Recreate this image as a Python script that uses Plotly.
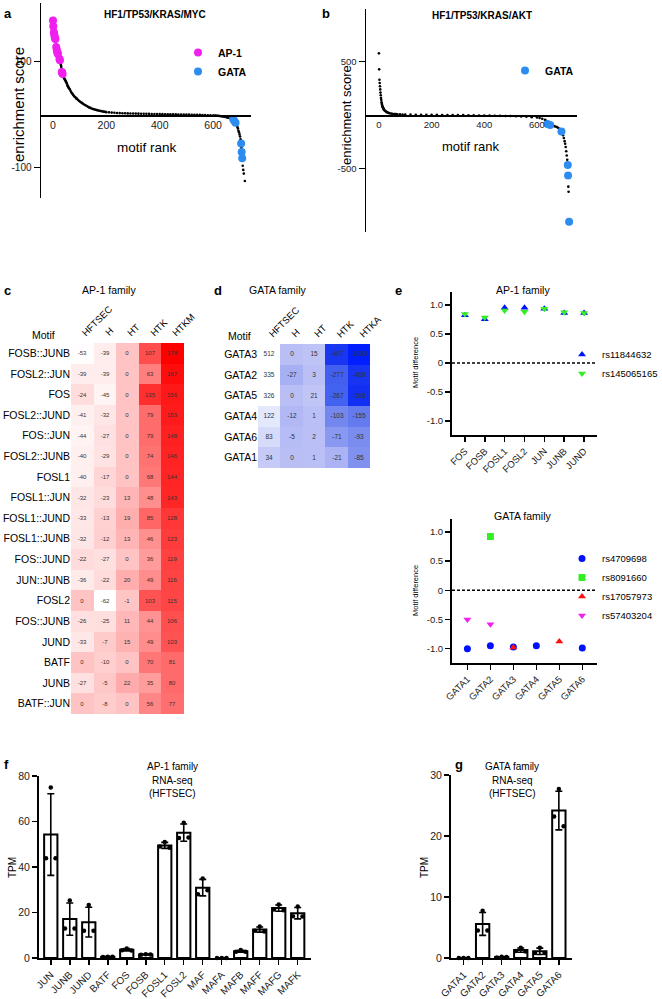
import plotly.graph_objects as go

W, H = 662, 999
FONT = "Liberation Sans, Arial, sans-serif"


def px(x):
    return x / W


def py(y):
    return 1 - y / H


# ---------------- panel a data (HF1/TP53/KRAS/MYC) ----------------
a_rank = [0, 1, 2, 3, 4, 5, 6, 7, 8, 9,
          10, 11, 12, 13, 14, 15, 16, 17, 18, 19,
          20, 21, 22, 23, 24, 25, 26, 27, 28, 29,
          30, 31, 32, 33, 34, 35, 36, 37, 38, 39,
          40, 42, 44, 46, 48, 50, 52, 54, 56, 58,
          60, 63, 66, 69, 72, 75, 78, 81, 84, 87,
          90, 94, 98, 102, 106, 110, 115, 120, 125, 130,
          135, 140, 145, 150, 155, 160, 165, 170, 175, 180,
          185, 190, 195, 200, 210, 220, 230, 240, 250, 260,
          270, 280, 290, 300, 310, 320, 330, 340, 350, 360,
          370, 380, 390, 400, 410, 420, 430, 440, 450, 460,
          470, 480, 490, 500, 510, 520, 530, 540, 550, 560,
          570, 580, 590, 600, 605, 610, 615, 620, 625, 630,
          635, 640, 645, 650, 653, 656, 659, 662, 665, 668,
          671, 673, 675, 677, 679, 681, 683, 685, 687, 689,
          691, 693, 695, 697, 699, 701, 703, 704, 705, 706,
          707, 708, 709, 711, 713, 715, 719]
a_score = [178, 167, 160, 156, 153, 150, 148, 146, 144, 143,
           138, 132, 128, 125, 123, 121, 119, 116, 115, 112,
           110, 109, 108, 107, 106, 104, 103, 100, 98, 96,
           93, 90, 86, 81, 80, 79, 77, 75, 74, 72,
           71, 69, 67, 65, 63, 61, 59, 56, 54, 52,
           50, 48, 45, 42, 40, 38, 36, 34, 33, 31,
           30, 28, 26, 24.5, 23, 22, 20, 18.5, 17, 15.5,
           14, 13, 12, 11, 10.2, 9.5, 8.8, 8.2, 7.6, 7,
           6.5, 6, 5.5, 5, 4.6, 4.2, 3.8, 3.5, 3.2, 3,
           2.9, 2.7, 2.6, 2.5, 2.3, 2.2, 2.1, 1.9, 1.8, 1.7,
           1.6, 1.5, 1.4, 1.3, 1.2, 1.1, 1.0, 1.0, 0.9, 0.8,
           0.7, 0.6, 0.5, 0.4, 0.3, 0.2, 0.1, 0, -0.1, -0.3,
           -0.5, -0.7, -0.9, -1.2, -1.4, -1.6, -1.8, -2.0, -2.3, -2.6,
           -3.0, -3.4, -3.9, -4.4, -4.8, -5.2, -5.6, -6.0, -6.5, -7,
           -7.5, -7.8, -8, -9, -11, -12, -14, -16, -18, -20,
           -23, -26, -30, -33, -37, -41, -46, -50, -54, -62,
           -66, -70, -82, -96, -104, -111, -125]
a_ap1_rank = [0, 1, 3, 4, 6, 7, 8, 9, 12, 14, 16, 17, 18, 24, 26, 33, 34, 36]
a_ap1_score = [178, 167, 156, 153, 148, 146, 144, 143, 128, 123, 119, 116, 115, 106, 103, 81, 80, 77]
a_gata_rank = [675, 679, 684, 705, 707, 709]
a_gata_score = [-8, -11, -15, -54, -70, -82]

# ---------------- panel b data (HF1/TP53/KRAS/AKT) ----------------
b_rank = [0, 1, 2, 3, 4, 5, 6, 7, 8, 9,
          10, 11, 12, 13, 14, 15, 16, 17, 18, 20,
          22, 24, 27, 30, 33, 36, 40, 45, 50, 55,
          60, 65, 70, 80, 90, 100, 120, 140, 160, 180,
          200, 220, 240, 260, 280, 300, 320, 340, 360, 380,
          400, 420, 440, 460, 480, 500, 520, 540, 560, 580,
          600, 610, 620, 630, 635, 640, 645, 650, 655, 660,
          665, 670, 675, 680, 685, 690, 693, 696, 699, 702,
          705, 707, 709, 711, 713, 715, 717, 718, 719, 720,
          722]
b_score = [578, 428, 330, 300, 270, 240, 210, 185, 160, 140,
           120, 105, 95, 85, 78, 72, 66, 60, 55, 48,
           42, 37, 32, 27, 23, 20, 17, 14, 12, 10,
           9, 8, 7, 6, 5, 4.5, 3.5, 3, 2.5, 2,
           1.5, 1, 0.5, 0, -0.5, -1, -1.5, -2, -3, -4,
           -5, -6, -7, -8, -9, -10, -12, -14, -17, -20,
           -24, -28, -35, -45, -55, -85, -90, -93, -96, -100,
           -104, -108, -113, -120, -130, -145, -155, -170, -190, -215,
           -245, -270, -300, -340, -380, -420, -468, -568, -672, -719,
           -1000]
b_gata_rank = [640, 650, 693, 717, 718, 722]
b_gata_score = [-85, -93, -155, -468, -568, -1000]

# ---------------- panel c data (AP-1 heatmap) ----------------
c_cols = ["HFTSEC", "H", "HT", "HTK", "HTKM"]
c_rows = ["FOSB::JUNB", "FOSL2::JUN", "FOS", "FOSL2::JUND", "FOS::JUN", "FOSL2::JUNB",
          "FOSL1", "FOSL1::JUN", "FOSL1::JUND", "FOSL1::JUNB", "FOS::JUND", "JUN::JUNB",
          "FOSL2", "FOS::JUNB", "JUND", "BATF", "JUNB", "BATF::JUN"]
c_HFTSEC = [-53, -39, -24, -41, -44, -40, -40, -32, -33, -32, -22, -36, 0, -26, -33, 0, -27, 0]
c_H = [-39, -39, -45, -32, -27, -29, -17, -23, -13, -12, -27, -22, -62, -25, -7, -10, -5, -8]
c_HT = [0, 0, 0, 0, 0, 0, 0, 13, 19, 13, 0, 20, -1, 11, 15, 0, 22, 0]
c_HTK = [107, 63, 135, 79, 79, 74, 68, 48, 85, 46, 36, 49, 103, 44, 49, 70, 35, 56]
c_HTKM = [178, 167, 156, 153, 148, 146, 144, 143, 128, 123, 119, 116, 115, 106, 103, 81, 80, 77]

# ---------------- panel d data (GATA heatmap) ----------------
d_cols = ["HFTSEC", "H", "HT", "HTK", "HTKA"]
d_rows = ["GATA3", "GATA2", "GATA5", "GATA4", "GATA6", "GATA1"]
d_HFTSEC = [512, 335, 326, 122, 83, 34]
d_H = [0, -27, 0, -12, -5, 0]
d_HT = [15, 3, 21, 1, 2, 1]
d_HTK = [-407, -277, -267, -103, -71, -21]
d_HTKA = [-1000, -468, -568, -155, -93, -85]

# ---------------- panel e data (motif difference) ----------------
e1_tf = ["FOS", "FOSB", "FOSL1", "FOSL2", "JUN", "JUNB", "JUND"]
e1_rs11844632 = [0.82, 0.75, 0.95, 0.95, 0.93, 0.86, 0.86]
e1_rs145065165 = [0.84, 0.78, 0.90, 0.88, 0.93, 0.87, 0.86]

e2_tf = ["GATA1", "GATA2", "GATA3", "GATA4", "GATA5", "GATA6"]
e2_rs4709698 = [-1.0, -0.95, -0.97, -0.95, None, -0.99]
e2_rs8091660 = [None, 0.92, None, None, None, None]
e2_rs17057973 = [None, None, -0.98, None, -0.875, None]
e2_rs57403204 = [-0.5, -0.58, None, None, None, None]

e_ticks = [-1.0, -0.5, 0, 0.5, 1.0]
e_ticktext = ["-1.0", "-0.5", "0", "0.5", "1.0"]

# ---------------- panel f data (AP-1 RNA-seq TPM) ----------------
f_genes = ["JUN", "JUNB", "JUND", "BATF", "FOS", "FOSB", "FOSL1", "FOSL2",
           "MAF", "MAFA", "MAFB", "MAFF", "MAFG", "MAFK"]
f_rep1 = [75, 25.3, 23.3, 0.6, 4.2, 1.6, 51, 59.5, 35, 0, 3.5, 13.8, 23.5, 22.6]
f_rep2 = [43.9, 13.0, 12.0, 0.4, 3.4, 1.4, 49, 52.8, 28, 0, 2.8, 12.0, 21.3, 18.3]
f_rep3 = [43.9, 13.0, 12.0, 0.5, 3.3, 1.5, 48.5, 53, 29.8, 0, 2.7, 11.7, 21.0, 18.2]
f_yticks = [0, 20, 40, 60, 80]

# ---------------- panel g data (GATA RNA-seq TPM) ----------------
g_genes = ["GATA1", "GATA2", "GATA3", "GATA4", "GATA5", "GATA6"]
g_rep1 = [0, 7.75, 0.2, 1.7, 1.7, 27.7]
g_rep2 = [0, 4.5, 0.1, 1.15, 0.8, 23.2]
g_rep3 = [0, 4.5, 0.15, 1.05, 0.8, 21.6]
g_yticks = [0, 10, 20, 30]


def mean_sd(r1, r2, r3):
    means, sds = [], []
    for a, b, c in zip(r1, r2, r3):
        m = (a + b + c) / 3
        v = ((a - m) ** 2 + (b - m) ** 2 + (c - m) ** 2) / 2
        means.append(m)
        sds.append(v ** 0.5)
    return means, sds


fig = go.Figure()

# ---- a
fig.add_trace(go.Scatter(x=a_rank, y=a_score, mode="markers", xaxis="x", yaxis="y",
                         marker=dict(size=2.6, color="black"), showlegend=False,
                         cliponaxis=False, hoverinfo="skip"))
fig.add_trace(go.Scatter(x=a_ap1_rank, y=a_ap1_score, mode="markers", xaxis="x", yaxis="y",
                         marker=dict(size=8, color="#F020EE"), name="<b>AP-1</b>",
                         legend="legend", cliponaxis=False))
fig.add_trace(go.Scatter(x=a_gata_rank, y=a_gata_score, mode="markers", xaxis="x", yaxis="y",
                         marker=dict(size=8, color="#2D8CF0"), name="<b>GATA</b>",
                         legend="legend", cliponaxis=False))
# ---- b
fig.add_trace(go.Scatter(x=b_rank, y=b_score, mode="markers", xaxis="x2", yaxis="y2",
                         marker=dict(size=2.6, color="black"), showlegend=False,
                         cliponaxis=False, hoverinfo="skip"))
fig.add_trace(go.Scatter(x=b_gata_rank, y=b_gata_score, mode="markers", xaxis="x2", yaxis="y2",
                         marker=dict(size=8, color="#2D8CF0"), name="<b>GATA</b>",
                         legend="legend2", cliponaxis=False))

# ---- c heatmap
c_z = [list(r) for r in zip(c_HFTSEC, c_H, c_HT, c_HTK, c_HTKM)]
c_txt = [[str(v) for v in r] for r in c_z]
fig.add_trace(go.Heatmap(z=c_z, x=c_cols, y=c_rows, text=c_txt, texttemplate="%{text}",
                         textfont=dict(size=6, color="#333", family=FONT),
                         colorscale=[[0, "#FFFFFF"], [1, "#FF0000"]], zmin=-55, zmax=178,
                         showscale=False, xaxis="x3", yaxis="y3", hoverinfo="skip"))
# ---- d heatmap
d_z = [list(r) for r in zip(d_HFTSEC, d_H, d_HT, d_HTK, d_HTKA)]
d_txt = [[str(v) for v in r] for r in d_z]
blue_scale = [[0.0, "rgb(0,30,255)"], [0.392, "rgb(25,55,240)"], [0.477, "rgb(65,95,240)"],
              [0.593, "rgb(115,135,238)"], [0.661, "rgb(185,190,245)"],
              [0.742, "rgb(228,232,252)"], [0.86, "rgb(255,255,255)"], [1.0, "rgb(255,255,255)"]]
fig.add_trace(go.Heatmap(z=d_z, x=d_cols, y=d_rows, text=d_txt, texttemplate="%{text}",
                         textfont=dict(size=6.5, color="#333", family=FONT),
                         colorscale=blue_scale, zmin=-1000, zmax=512,
                         showscale=False, xaxis="x4", yaxis="y4", hoverinfo="skip"))

# ---- e top
fig.add_trace(go.Scatter(x=e1_tf, y=e1_rs11844632, mode="markers", xaxis="x5", yaxis="y5",
                         marker=dict(symbol="triangle-up", size=7, color="#0010FF"),
                         name="rs11844632", legend="legend3", cliponaxis=False))
fig.add_trace(go.Scatter(x=e1_tf, y=e1_rs145065165, mode="markers", xaxis="x5", yaxis="y5",
                         marker=dict(symbol="triangle-down", size=7, color="#33EE22"),
                         name="rs145065165", legend="legend3", cliponaxis=False))
# ---- e bottom
fig.add_trace(go.Scatter(x=e2_tf, y=e2_rs4709698, mode="markers", xaxis="x6", yaxis="y6",
                         marker=dict(symbol="circle", size=7, color="#0010FF"),
                         name="rs4709698", legend="legend4", cliponaxis=False))
fig.add_trace(go.Scatter(x=e2_tf, y=e2_rs8091660, mode="markers", xaxis="x6", yaxis="y6",
                         marker=dict(symbol="square", size=7, color="#33EE22"),
                         name="rs8091660", legend="legend4", cliponaxis=False))
fig.add_trace(go.Scatter(x=e2_tf, y=e2_rs17057973, mode="markers", xaxis="x6", yaxis="y6",
                         marker=dict(symbol="triangle-up", size=7, color="#FF1010"),
                         name="rs17057973", legend="legend4", cliponaxis=False))
fig.add_trace(go.Scatter(x=e2_tf, y=e2_rs57403204, mode="markers", xaxis="x6", yaxis="y6",
                         marker=dict(symbol="triangle-down", size=7, color="#F020EE"),
                         name="rs57403204", legend="legend4", cliponaxis=False))

# ---- f bars
DOT_OFF = [0.0, -0.25, 0.25]
f_mean, f_sd = mean_sd(f_rep1, f_rep2, f_rep3)
f_idx = list(range(len(f_genes)))
fig.add_trace(go.Bar(x=f_idx, y=f_mean, width=0.7, xaxis="x7", yaxis="y7",
                     marker=dict(color="white", line=dict(color="black", width=2)),
                     error_y=dict(type="data", array=f_sd, color="black", thickness=1.6, width=3.5),
                     showlegend=False, cliponaxis=False))
for reps, off in zip([f_rep1, f_rep2, f_rep3], DOT_OFF):
    fig.add_trace(go.Scatter(x=[i + off for i in f_idx], y=reps, mode="markers",
                             xaxis="x7", yaxis="y7", marker=dict(size=4.5, color="black"),
                             showlegend=False, cliponaxis=False))
# ---- g bars
g_mean, g_sd = mean_sd(g_rep1, g_rep2, g_rep3)
g_idx = list(range(len(g_genes)))
fig.add_trace(go.Bar(x=g_idx, y=g_mean, width=0.7, xaxis="x8", yaxis="y8",
                     marker=dict(color="white", line=dict(color="black", width=2)),
                     error_y=dict(type="data", array=g_sd, color="black", thickness=1.6, width=3.5),
                     showlegend=False, cliponaxis=False))
for reps, off in zip([g_rep1, g_rep2, g_rep3], DOT_OFF):
    fig.add_trace(go.Scatter(x=[i + off for i in g_idx], y=reps, mode="markers",
                             xaxis="x8", yaxis="y8", marker=dict(size=4.5, color="black"),
                             showlegend=False, cliponaxis=False))

TICKC = "#222"


def tf(size):
    return dict(family=FONT, size=size, color=TICKC)


base = dict(showgrid=False, zeroline=False, linecolor="black", automargin=False)

layout = dict(
    template="none",
    width=W, height=H, margin=dict(l=0, r=0, t=0, b=0, autoexpand=False),
    paper_bgcolor="white", plot_bgcolor="rgba(0,0,0,0)",
    font=dict(family=FONT, color="black"),
    hovermode=False,
    # a
    xaxis=dict(**base, domain=[px(41), px(251)], range=[-45, 742], anchor="free", position=py(115),
               showline=True, linewidth=1.5, ticks="", tickvals=[0, 200, 400, 600],
               tickfont=tf(10.5)),
    yaxis=dict(**base, domain=[py(198), py(3)], range=[-157, 211], anchor="x", showline=True,
               linewidth=1.5, ticks="outside", ticklen=6, tickwidth=1.3, tickcolor="black",
               tickvals=[-100, 100], ticktext=["-100", "100"], tickfont=tf(10)),
    # b
    xaxis2=dict(**base, domain=[px(366), px(577)], range=[-49, 752], anchor="free", position=py(115),
                showline=True, linewidth=1.5, ticks="", tickvals=[0, 200, 400, 600],
                tickfont=tf(9.5)),
    yaxis2=dict(**base, domain=[py(232), py(9)], range=[-1097, 994], anchor="x2", showline=True,
                linewidth=1.5, ticks="outside", ticklen=6, tickwidth=1.3, tickcolor="black",
                tickvals=[-500, 500], ticktext=["-500", "500"], tickfont=tf(9.5)),
    # c
    xaxis3=dict(**base, domain=[px(71), px(200)], side="top", showticklabels=False, ticks="",
                showline=False, anchor="y3"),
    yaxis3=dict(**base, domain=[py(714), py(343)], autorange="reversed", ticks="",
                showline=False, tickfont=dict(family=FONT, size=10.5, color="black"), anchor="x3"),
    # d
    xaxis4=dict(**base, domain=[px(258), px(386)], side="top", showticklabels=False, ticks="",
                showline=False, anchor="y4"),
    yaxis4=dict(**base, domain=[py(468), py(344)], autorange="reversed", ticks="",
                showline=False, tickfont=dict(family=FONT, size=10.5, color="black"), anchor="x4"),
    # e top
    xaxis5=dict(**base, domain=[px(452), px(597)], range=[-0.65, 6.65], anchor="y5",
                showline=True, linewidth=2, ticks="outside", ticklen=5, tickwidth=1.5,
                tickcolor="black", tickangle=-45, tickfont=tf(9.5), type="category",
                categoryorder="array", categoryarray=e1_tf),
    yaxis5=dict(**base, domain=[py(435), py(292)], range=[-1.24, 1.22], anchor="x5",
                showline=True, linewidth=2, ticks="outside", ticklen=5, tickwidth=1.5,
                tickcolor="black", tickvals=e_ticks, ticktext=e_ticktext, tickfont=tf(9.5)),
    # e bottom
    xaxis6=dict(**base, domain=[px(452), px(597)], range=[-0.67, 5.64], anchor="y6",
                showline=True, linewidth=2, ticks="outside", ticklen=5, tickwidth=1.5,
                tickcolor="black", tickangle=-45, tickfont=tf(9.5), type="category",
                categoryorder="array", categoryarray=e2_tf),
    yaxis6=dict(**base, domain=[py(663), py(519)], range=[-1.245, 1.22], anchor="x6",
                showline=True, linewidth=2, ticks="outside", ticklen=5, tickwidth=1.5,
                tickcolor="black", tickvals=e_ticks, ticktext=e_ticktext, tickfont=tf(9.5)),
    # f
    xaxis7=dict(**base, domain=[px(39), px(311)], range=[-0.62, 13.7], anchor="y7",
                showline=True, linewidth=2, ticks="outside", ticklen=5, tickwidth=1.5,
                tickcolor="black", tickangle=-45, tickvals=f_idx, ticktext=f_genes,
                tickfont=tf(10)),
    yaxis7=dict(**base, domain=[py(958), py(776)], range=[0, 80], anchor="x7",
                showline=True, linewidth=2, ticks="outside", ticklen=5, tickwidth=1.5,
                tickcolor="black", tickvals=f_yticks, tickfont=tf(10.5)),
    # g
    xaxis8=dict(**base, domain=[px(451), px(572)], range=[-0.66, 5.69], anchor="y8",
                showline=True, linewidth=2, ticks="outside", ticklen=5, tickwidth=1.5,
                tickcolor="black", tickangle=-45, tickvals=g_idx, ticktext=g_genes,
                tickfont=tf(10)),
    yaxis8=dict(**base, domain=[py(958), py(775)], range=[0, 30], anchor="x8",
                showline=True, linewidth=2, ticks="outside", ticklen=5, tickwidth=1.5,
                tickcolor="black", tickvals=g_yticks, tickfont=tf(10.5)),
    # legends
    legend=dict(x=px(178), y=py(38), xanchor="left", yanchor="top", bgcolor="rgba(0,0,0,0)",
                font=dict(family=FONT, size=10.5, color="black"), tracegroupgap=0),
    legend2=dict(x=px(505), y=py(56), xanchor="left", yanchor="top", bgcolor="rgba(0,0,0,0)",
                 font=dict(family=FONT, size=10.5, color="black")),
    legend3=dict(x=px(562), y=py(364), xanchor="left", yanchor="middle", bgcolor="rgba(0,0,0,0)",
                 font=dict(family=FONT, size=9.5, color="black")),
    legend4=dict(x=px(562), y=py(587), xanchor="left", yanchor="middle", bgcolor="rgba(0,0,0,0)",
                 font=dict(family=FONT, size=9.5, color="black")),
    showlegend=True,
)
fig.update_layout(**layout)

# dashed zero lines in e
for xr, yr in [("x5 domain", "y5"), ("x6 domain", "y6")]:
    fig.add_shape(type="line", xref=xr, yref=yr, x0=0, x1=1, y0=0, y1=0,
                  line=dict(color="black", width=1.5, dash="3px,2px"))


def ann(x, y, text, size, bold=False, angle=0, xa="center", ya="middle", color="black"):
    fig.add_annotation(x=px(x), y=py(y), xref="paper", yref="paper", text=text,
                       showarrow=False, textangle=angle, xanchor=xa, yanchor=ya,
                       font=dict(family=FONT, size=size, color=color))


# heatmap column headers (rotated), anchored at column centres
for cols, xr in [(c_cols, "x3"), (d_cols, "x4")]:
    top = 341 if xr == "x3" else 342
    for cname in cols:
        fig.add_annotation(x=cname, y=py(top), xref=xr, yref="paper", text=cname,
                           showarrow=False, textangle=-45, xanchor="left", yanchor="bottom",
                           xshift=-5, font=dict(family=FONT, size=9.5, color="black"))

# panel letters
for lx, ly, lt in [(2, 4, "a"), (320, 4, "b"), (2, 281, "c"), (212, 281, "d"),
                   (393, 281, "e"), (2, 755, "f"), (453, 755, "g")]:
    ann(lx, ly, "<b>%s</b>" % lt, 13, xa="left", ya="top")

# a / b titles
ann(155, 15, "<b>HF1/TP53/KRAS/MYC</b>", 10)
ann(482, 16, "<b>HF1/TP53/KRAS/AKT</b>", 10)
ann(147, 147, "motif rank", 13.5)
ann(471, 146, "motif rank", 13)
ann(19, 105, "enrichment score", 15, angle=-90)
ann(347, 115, "enrichment score", 13, angle=-90)

# heatmap titles
ann(109, 290, "AP-1 family", 10.5)
ann(43, 335, "Motif", 10.5)
ann(278, 290, "GATA family", 10.5)
ann(239, 336, "Motif", 10.5)

# e titles
ann(523, 290, "AP-1 family", 10.5)
ann(523, 516, "GATA family", 10.5)
ann(415, 363, "Motif difference", 7.5, angle=-90)
ann(415, 591, "Motif difference", 7.5, angle=-90)

# f / g titles
ann(172, 766, "AP-1 family", 10)
ann(172, 780, "RNA-seq", 10)
ann(172, 793, "(HFTSEC)", 10)
ann(12, 868, "TPM", 10, angle=-90)
ann(512, 766, "GATA family", 10)
ann(512, 780, "RNA-seq", 10)
ann(512, 793, "(HFTSEC)", 10)
ann(424, 868, "TPM", 10, angle=-90)

fig.write_html("out.html", config={"displayModeBar": False, "staticPlot": True},
               post_script="document.body.style.margin='0px';document.body.style.padding='0px';")
